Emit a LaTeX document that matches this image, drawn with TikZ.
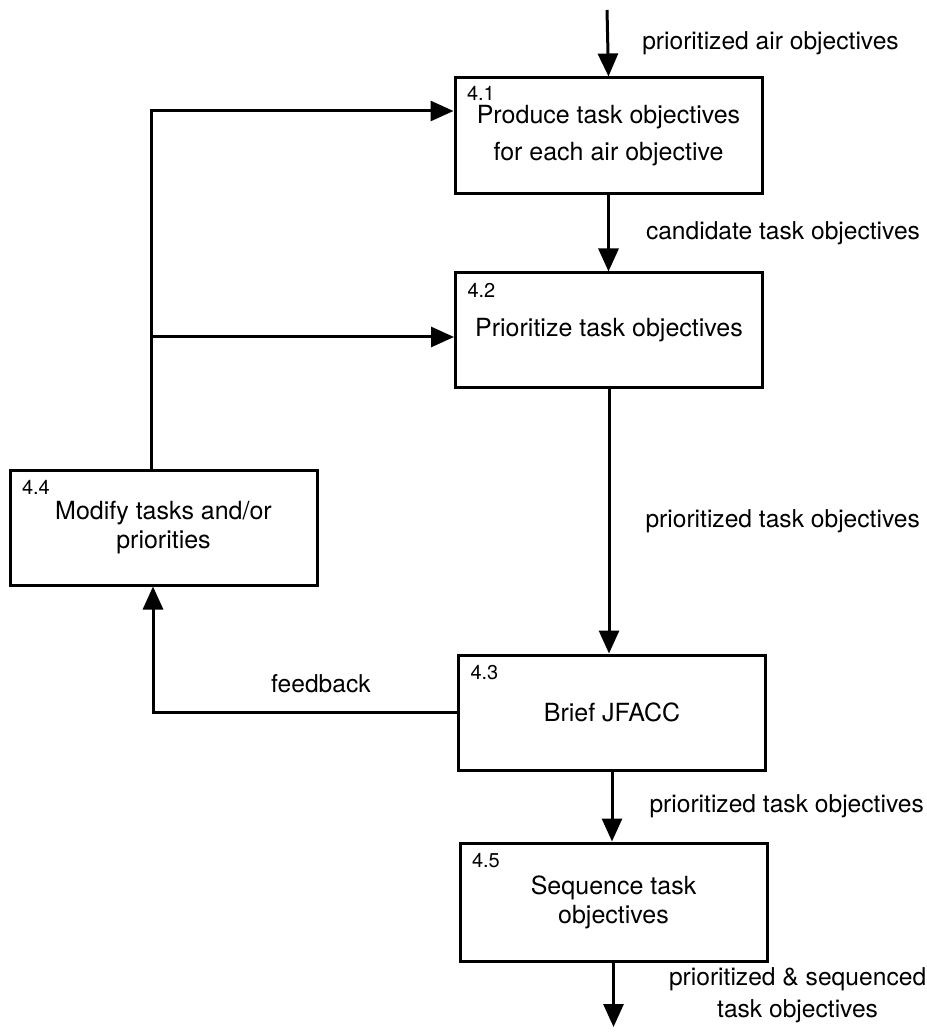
\documentclass[tikz,border=0pt]{standalone}
\usepackage{fontspec}
\setmainfont{TeX Gyre Heros}
\usetikzlibrary{arrows.meta,positioning}

\begin{document}
\begin{tikzpicture}[
  x=0.5pt, y=-0.5pt,
  >={Triangle[length=11.5pt,width=10pt]},
  line width=1.5pt,
  proc/.style={
    draw,
    line width=1.5pt,
    minimum width=153.5pt,
    minimum height=57.5pt,
    align=center,
    font=\fontsize{12.5}{14.5}\selectfont
  },
  num/.style={
    anchor=north west,
    inner sep=0pt,
    xshift=6pt,
    yshift=-5pt,
    font=\fontsize{10}{12}\selectfont
  },
  flow/.style={->},
  lbl/.style={
    inner sep=0pt,
    align=center,
    font=\fontsize{12.3}{16}\selectfont
  }
]
  \useasboundingbox (0,0) rectangle (926,1036);

  % process boxes
  \node[proc,minimum height=58pt,label={[num,yshift=0.75pt]north west:4.1}] (produce) at (608.5,136)
    {Produce task objectives\\[4pt]for each air objective};
  \node[proc,label={[num]north west:4.2}] (prio) at (609,330.5)
    {Prioritize task objectives};
  \node[proc,label={[num]north west:4.4}] (modify) at (163.5,527.5)
    {Modify tasks and/or\\priorities};
  \node[proc,label={[num]north west:4.3}] (brief) at (612,712.5)
    {Brief JFACC};
  \node[proc,minimum height=59pt,label={[num]north west:4.5}] (seq) at (613.5,902)
    {Sequence task\\objectives};

  \coordinate (in) at (607,10);
  \coordinate (out) at (613.5,1027);
  \coordinate (trunk) at ([xshift=-6pt]modify.north);
  \coordinate (fbin) at ([xshift=-5.25pt]modify.south);

  % main flow
  \draw[flow] (in) -- (produce.north)
    node[lbl,midway,right=16.5pt] {prioritized air objectives};
  \draw[flow] (produce.south) -- (produce.south |- prio.north)
    node[lbl,midway,right=18pt] {candidate task objectives};
  \draw[flow] (prio.south) -- (prio.south |- brief.north)
    node[lbl,midway,right=17.5pt] {prioritized task objectives};
  \draw[flow] (brief.south) -- (brief.south |- seq.north)
    node[lbl,midway,right=18pt] {prioritized task objectives};
  \draw[flow] (seq.south) -- (out)
    node[lbl,midway,right=27pt] {prioritized \& sequenced\\task objectives};

  % feedback loop
  \draw[flow] (brief.west) -| (fbin)
    node[lbl,pos=0.25,above=9pt,xshift=8pt] {feedback};
  \draw[flow] (trunk) |- ([yshift=12.5pt]produce.west);
  \draw[flow] (trunk |- prio.west) ++(0,6.5) -- ([yshift=-3.25pt]prio.west);
\end{tikzpicture}
\end{document}
